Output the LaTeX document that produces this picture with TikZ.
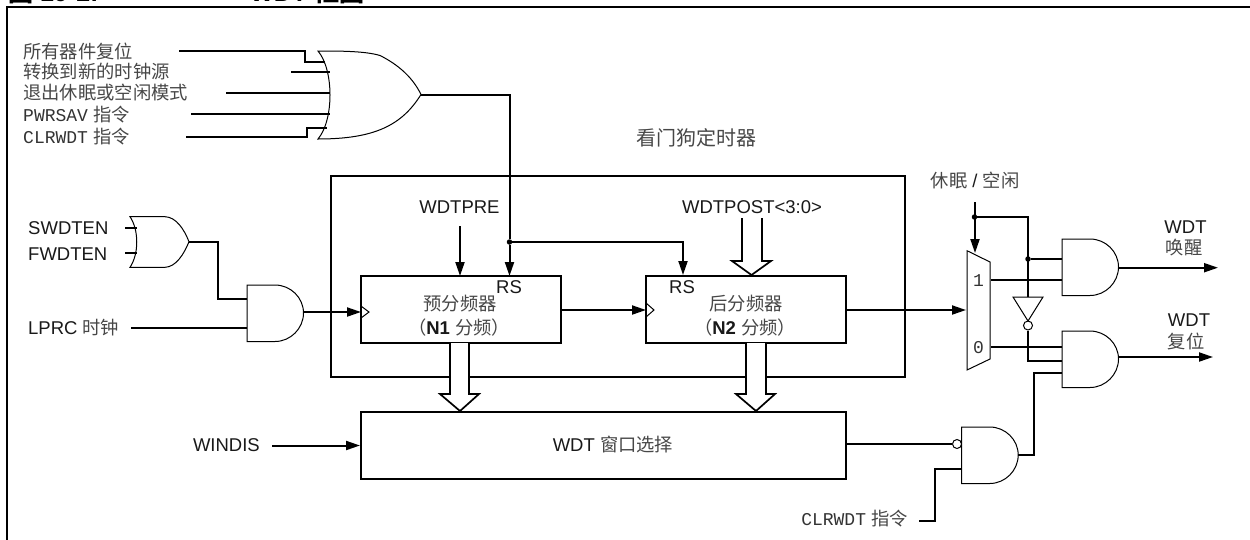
\documentclass[tikz,border=0pt]{standalone}
\usepackage{fontspec}
\setmainfont{Liberation Sans}
\newfontfamily\cjk{Noto Sans CJK SC}
\newfontfamily\mono{Liberation Mono}
\usetikzlibrary{arrows.meta}
\newcommand\zh[1]{{\cjk\fontsize{18.3}{18}\selectfont\color{black!72}#1}}
\newcommand\cw[1]{{\mono\fontsize{18}{18}\selectfont\color{black!80}#1}}
\newcommand\andg[2]{\draw[gate] (#1,#2)--(#1+28,#2) .. controls (#1+43.5,#2) and (#1+56.5,#2+12.5) .. (#1+56.5,#2+28) .. controls (#1+56.5,#2+43.5) and (#1+43.5,#2+56.5) .. (#1+28,#2+56.5)--(#1,#2+56.5)--cycle;}
\tikzset{
 wire/.style={line width=2pt},
 gate/.style={line width=1pt,fill=white},
 tip/.style={-{Triangle[length=14pt,width=9pt]}},
 boxn/.style={draw,line width=2pt,fill=white,inner sep=0pt},
 lab/.style={inner sep=0pt,font=\fontsize{18.5}{19}\selectfont,text=black!90},
 lft/.style={lab,anchor=west},
 dot/.style={circle,fill=black,inner sep=0pt,minimum size=5.5pt},
 bub/.style={circle,draw,line width=1pt,fill=white,inner sep=0pt,minimum size=9pt},
 bus/.style={line width=1.7pt,fill=white},
 ttl/.style={anchor=base west,inner sep=0pt,font=\fontsize{25}{25}\selectfont\bfseries},
}
\begin{document}
\begin{tikzpicture}[x=1pt,y=-1pt]
\useasboundingbox (0,0) rectangle (1250,539);
% title
\node[ttl] (title1) at (8,1) {{\cjk 图} 19-2:};
\node[ttl] (title2) at (250,1) {WDT {\cjk 框图}};
% frame
\draw[wire] (7,545)--(7,6.5)--(1255,6.5);
% inner box
\draw[wire] (331,176) rectangle (905,377);
% labels top-left
\node[lft] (l1) at (23,51) {\zh{所有器件复位}};
\node[lft] (l2) at (23,72) {\zh{转换到新的时钟源}};
\node[lft] (l3) at (23,93) {\zh{退出休眠或空闲模式}};
\node[lft] (l4) at (23,115) {\cw{PWRSAV} \zh{指令}};
\node[lft] (l5) at (23,137) {\cw{CLRWDT} \zh{指令}};
% big OR inputs
\coordinate (a1) at (179,51); \coordinate (a1k) at (305,51); \coordinate (a1m) at (305,61.7); \coordinate (a1e) at (325,61.7);
\coordinate (a2) at (291,71.7); \coordinate (a2e) at (330,71.7);
\coordinate (a3) at (226,92.7); \coordinate (a3e) at (330,92.7);
\coordinate (a4) at (191,113.7); \coordinate (a4e) at (330,113.7);
\coordinate (a5) at (186,136.7); \coordinate (a5k) at (307,136.7); \coordinate (a5m) at (307,127.7); \coordinate (a5e) at (327,127.7);
\draw[wire] (a1)--(a1k)--(a1m)--(a1e);
\draw[wire] (a2)--(a2e);
\draw[wire] (a3)--(a3e);
\draw[wire] (a4)--(a4e);
\draw[wire] (a5)--(a5k)--(a5m)--(a5e);
\draw[line width=1pt] (318,51) .. controls (334,70) and (334,120) .. (318,139)
  .. controls (375,139) and (402,125) .. (421,94.5)
  .. controls (413,78) and (399,65) .. (380,55.5) .. controls (365,51) and (340,51) .. (318,51) -- cycle;
\coordinate (orout) at (421,94.5);
\coordinate (rsk) at (509.5,94.5);
% boxes
\node[boxn,minimum width=200pt,minimum height=67pt] (pre) at (461,309.5) {};
\node[boxn,minimum width=200pt,minimum height=67pt] (post) at (746,309.5) {};
\node[boxn,minimum width=485pt,minimum height=67pt] (win) at (603.5,445.5) {};
\node[dot] (j1) at (509.5,242) {};
\coordinate (rsin) at (509.5,276);
\coordinate (rs2k) at (683,242);
\coordinate (rs2in) at (683,275);
\draw[wire] (orout)--(rsk)--(j1);
\draw[wire,tip] (j1)--(rsin);
\draw[wire,tip] (j1)--(rs2k)--(rs2in);
\node[lab,anchor=center] (pre1) at (460,304) {\zh{预分频器}};
\node[lab,anchor=center] (pre2) at (459,328) {\zh{（}\textbf{N1} \zh{分频）}};
\node[lab,anchor=center] (post1) at (746,304) {\zh{后分频器}};
\node[lab,anchor=center] (post2) at (745,328) {\zh{（}\textbf{N2} \zh{分频）}};
\node[lab,anchor=center] (rs1) at (509,287) {RS};
\node[lab,anchor=center] (rs2) at (682,287) {RS};
\draw[gate,fill=none] (361,306)--(369,312)--(361,318);
\draw[gate,fill=none] (646,303)--(654,310)--(646,317);
\node[lab,anchor=center] (wpre) at (459.5,207) {WDTPRE};
\node[lab,anchor=center] (wpost) at (752,207) {WDTPOST<3:0>};
\coordinate (wpreS) at (460,226);
\coordinate (wpreE) at (460,276);
\draw[wire,tip] (wpreS)--(wpreE);
% buses
\draw[bus] (742,218)--(742,261)--(732,261)--(751.5,275)--(771,261)--(762,261)--(762,218);
\draw[bus] (450,343)--(450,394)--(440,394)--(460,411)--(479,394)--(469,394)--(469,343);
\draw[bus] (746,343)--(746,394)--(736,394)--(756,411)--(775,394)--(766,394)--(766,343);
\node[lab,anchor=center] (wint) at (613,445) {WDT \zh{窗口选择}};
\node[lab,anchor=east] (windis) at (260,445.5) {WINDIS};
\coordinate (windisS) at (272,445.5);
\draw[wire,tip] (windisS)--(win.west);
% left logic
\node[lft] (sw) at (28,227.7) {SWDTEN};
\node[lft] (fw) at (28,254) {FWDTEN};
\node[lft] (lprc) at (28,327.5) {LPRC \zh{时钟}};
\coordinate (sa) at (125,227.7); \coordinate (sb) at (137,227.7);
\coordinate (fa) at (125,253); \coordinate (fb) at (137,253);
\draw[wire] (sa)--(sb);
\draw[wire] (fa)--(fb);
\draw[line width=1pt] (130,216.7) .. controls (139,230) and (139,254) .. (130,267.3)
  -- (165,267.3) .. controls (176,267) and (184,254) .. (189,241.7)
  .. controls (184,229) and (176,217) .. (165,216.7) -- cycle;
\coordinate (o2) at (189,241.7); \coordinate (o2a) at (218,241.7); \coordinate (o2b) at (218,299); \coordinate (and1a) at (247,299);
\coordinate (lp) at (131,327.7); \coordinate (and1b) at (247,327.7);
\draw[wire] (o2)--(o2a)--(o2b)--(and1a);
\draw[wire] (lp)--(and1b);
\andg{247}{285}
\coordinate (and1o) at (303.5,312); \coordinate (clk1) at (361,312);
\draw[wire,tip] (and1o)--(clk1);
\coordinate (preo) at (561,310); \coordinate (clk2) at (646,310);
\draw[wire,tip] (preo)--(clk2);
% mux
\coordinate (posto) at (846,310); \coordinate (muxin) at (966,310);
\draw[wire,tip] (posto)--(muxin);
\draw[gate] (967,250.7)--(990,262)--(990,359)--(967,370)--cycle;
\node[lab,anchor=center] (m1) at (978.5,281) {\cw{1}};
\node[lab,anchor=center] (m0) at (978.5,348) {\cw{0}};
\node[lab,anchor=center] (sl) at (975,181) {\zh{休眠} / \zh{空闲}};
\coordinate (slS) at (975,202); \coordinate (muxsel) at (975,253);
\draw[wire,tip] (slS)--(muxsel);
\node[dot] (j2) at (974.5,217) {};
\node[dot] (j3) at (1028,259) {};
\node[bub] (inv) at (1028,325.5) {};
\coordinate (j2k) at (1028,217); \coordinate (invin) at (1028,297);
\draw[wire] (j2)--(j2k)--(invin);
\coordinate (a1p) at (1063,259); \coordinate (m1o) at (991,280); \coordinate (a1q) at (1062,280);
\draw[wire] (j3)--(a1p);
\draw[wire] (m1o)--(a1q);
\draw[gate] (1013,297)--(1043,297)--(1028,321)--cycle;
\coordinate (invk) at (1028,360.7); \coordinate (a2p) at (1062,360.7);
\draw[wire] (inv.south)--(invk)--(a2p);
\coordinate (m0o) at (991,347); \coordinate (a2q) at (1062,347);
\draw[wire] (m0o)--(a2q);
% and gates
\andg{1062}{239}
\andg{1062}{331}
\coordinate (wko) at (1118.5,267.7); \coordinate (wke) at (1218,267.7);
\coordinate (rso) at (1118.5,357); \coordinate (rse) at (1213,357);
\draw[wire,tip] (wko)--(wke);
\draw[wire,tip] (rso)--(rse);
\node[lab,anchor=center] (wk1) at (1185.5,227) {WDT};
\node[lab,anchor=center] (wk2) at (1184,248) {\zh{唤醒}};
\node[lab,anchor=center] (rs3) at (1189,320) {WDT};
\node[lab,anchor=center] (rs4) at (1186,341) {\zh{复位}};
% nand
\node[bub] (nb) at (957,444) {};
\draw[wire] (win.east |- nb)--(nb.west);
\andg{961.7}{427}
\coordinate (no) at (1018,455); \coordinate (nk) at (1034,455); \coordinate (nk2) at (1034,372.7); \coordinate (a2r) at (1062,372.7);
\draw[wire] (no)--(nk)--(nk2)--(a2r);
\coordinate (nc) at (962,468.7); \coordinate (nck) at (935,468.7); \coordinate (nck2) at (935,521); \coordinate (nce) at (919,521);
\draw[wire] (nc)--(nck)--(nck2)--(nce);
\node[lab,anchor=east] (clr) at (908,519) {\cw{CLRWDT} \zh{指令}};
\node[lab,anchor=center] (wd) at (696,138) {{\cjk\fontsize{20}{20}\selectfont\color{black!72}看门狗定时器}};
\end{tikzpicture}
\end{document}
